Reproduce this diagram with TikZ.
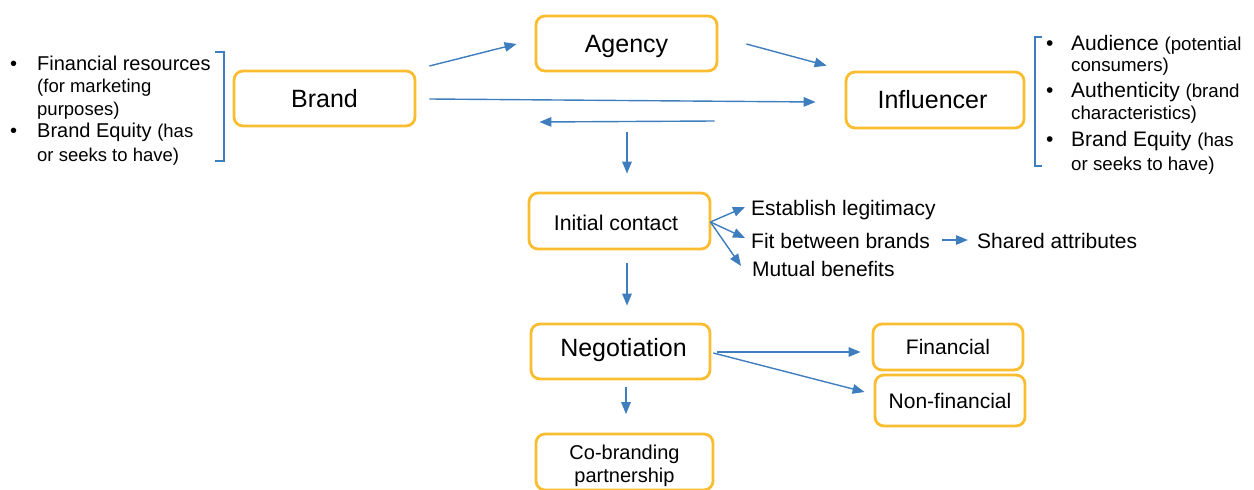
\documentclass[tikz,border=0pt]{standalone}
\usepackage{fontspec}
\setmainfont{Liberation Sans}
\usetikzlibrary{arrows.meta,calc}
\definecolor{boxor}{RGB}{251,189,48}
\definecolor{arrblue}{RGB}{62,126,190}
\newcommand{\fs}[1]{\fontsize{#1}{\dimexpr #1pt*6/5\relax}\selectfont}
\newcommand{\mv}[2]{\raisebox{#1}[\height][\depth]{#2}}
\begin{document}
\begin{tikzpicture}[x=1pt,y=-1pt,
  box/.style={draw=boxor, line width=2.8pt, rounded corners=9pt, inner sep=0pt, align=center, fill=white},
  arr/.style={draw=arrblue, line width=1.4pt, -{Triangle[length=12pt,width=9.5pt]}},
  brk/.style={draw=arrblue, line width=1.2pt},
  lbl/.style={inner sep=0pt, anchor=west},
  bl/.style={inner sep=0pt, anchor=base west},
]
\useasboundingbox (0,0) rectangle (1254,490);
% main boxes
\node[box, minimum width=181pt, minimum height=55pt, font=\fs{25}] (brand) at (324.5,98.5) {Brand};
\node[box, minimum width=181pt, minimum height=55pt, font=\fs{25}] (agency) at (626.5,43.5) {\mv{-3pt}{Agency}};
\node[box, minimum width=178pt, minimum height=56pt, font=\fs{25}] (infl) at (935,100) {\hspace*{-5pt}Influencer};
\node[box, minimum width=181pt, minimum height=56pt, font=\fs{21.3}] (init) at (619.5,221) {\mv{-2pt}{Initial contact}\hspace*{7pt}};
\node[box, minimum width=179pt, minimum height=55pt, font=\fs{25}] (neg) at (620.5,351.5) {\hspace*{6pt}\mv{1pt}{Negotiation}};
\node[box, minimum width=177pt, minimum height=56pt, font=\fs{20}] (cob) at (624.5,462) {\mv{-4pt}{\shortstack{Co-branding\\[1pt]partnership}}};
\node[box, minimum width=150pt, minimum height=46pt, font=\fs{21}] (fin) at (948,347) {Financial};
\node[box, minimum width=150pt, minimum height=51pt, font=\fs{21}] (nonfin) at (950,400.5) {Non-financial};
% labels
\node[lbl, font=\fs{21}] (leg) at (751,210) {Establish legitimacy};
\node[lbl, font=\fs{21}] (fit) at (751,241) {Fit between brands};
\node[lbl, font=\fs{21}] (mut) at (752,269) {Mutual benefits};
\node[lbl, font=\fs{21}] (shared) at (977,241) {Shared attributes};
% left list
\node[bl, font=\fs{20}] (lb1) at (10,70) {•};
\node[bl, font=\fs{20}] (l1) at (37,70) {Financial resources};
\node[bl, font=\fs{18.5}] (l2) at (37,92) {(for marketing};
\node[bl, font=\fs{18.5}] (l3) at (37,115) {purposes)};
\node[bl, font=\fs{20}] (lb2) at (10,137) {•};
\node[bl, font=\fs{20}] (l4) at (37,137) {Brand Equity {\fs{18.5}(has}};
\node[bl, font=\fs{18.5}] (l5) at (37,161) {or seeks to have)};
\draw[brk] (215,52) -- (224,52) -- (224,161) -- (215,161);
% right list
\node[bl, font=\fs{21}] (rb1) at (1046,50) {•};
\node[bl, font=\fs{21}] (r1) at (1071,50) {Audience {\fs{18.7}(potential}};
\node[bl, font=\fs{18.7}] (r2) at (1071,71) {consumers)};
\node[bl, font=\fs{21}] (rb2) at (1046,97) {•};
\node[bl, font=\fs{21}] (r3) at (1071,97) {Authenticity {\fs{18.7}(brand}};
\node[bl, font=\fs{18.7}] (r4) at (1071,119) {characteristics)};
\node[bl, font=\fs{21}] (rb3) at (1046,146) {•};
\node[bl, font=\fs{21}] (r5) at (1071,146) {Brand Equity {\fs{18.7}(has}};
\node[bl, font=\fs{18.7}] (r6) at (1071,170) {or seeks to have)};
\draw[brk] (1042,37) -- (1035,37) -- (1035,166) -- (1042,166);
% arrows
\draw[arr] ($(brand.east)+(13,-32.5)$) -- ($(agency.west)+(-18,0.5)$);
\draw[arr] ($(agency.east)+(28,0.5)$) -- ($(infl.north west)+(-18,-5)$);
\draw[arr] ($(brand.east)+(13,0.5)$) -- ($(infl.west)+(-29,2)$);
\draw[arr] ($(infl.west)+(-130,21)$) -- ($(brand.east)+(123,23.5)$);
\draw[arr] ($(init.north)+(7.5,-60)$) -- ($(init.north)+(7.5,-18)$);
\draw[arr] ($(init.east)+(-1,1)$) -- ($(leg.west)+(-6,-3)$);
\draw[arr] ($(init.east)+(-1,1)$) -- ($(fit.west)+(-6,-3)$);
\draw[arr] ($(init.east)+(-1,1)$) -- ($(mut.west)+(-11,-3)$);
\draw[arr] ($(fit.east)+(12,-1)$) -- ($(shared.west)+(-9,-1)$);
\draw[arr] ($(init.south)+(7.5,13)$) -- ($(neg.north)+(6.5,-17)$);
\draw[arr] ($(neg.east)+(6,0.5)$) -- ($(fin.west)+(-11,5)$);
\draw[arr] ($(neg.east)+(2,1.5)$) -- ($(nonfin.west)+(-9,-8.5)$);
\draw[arr] ($(neg.south)+(5.5,7)$) -- ($(cob.north)+(1.5,-18.5)$);
\end{tikzpicture}
\end{document}
